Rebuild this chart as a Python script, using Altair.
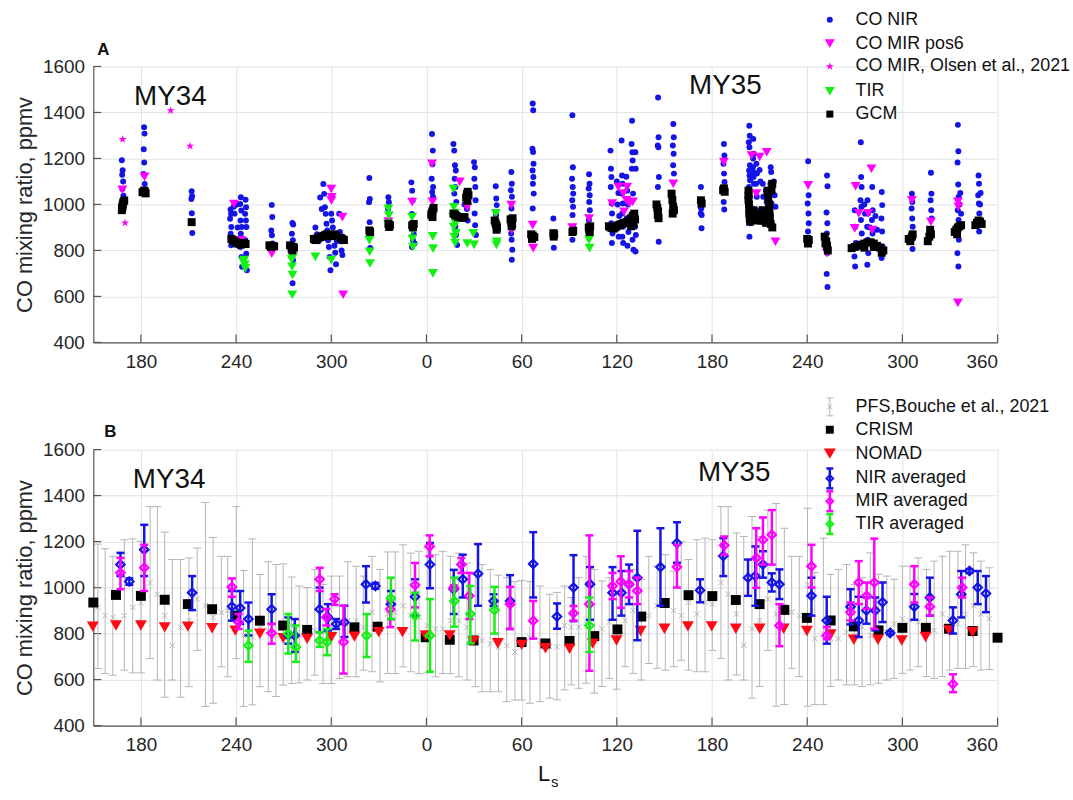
import altair as alt
import pandas as pd

FONT = "Liberation Sans"
W, H = 911, 278
X_DOMAIN = [150, 720]
Y_DOMAIN = [400, 1600]
X_TICKS = [180, 240, 300, 360, 420, 480, 540, 600, 660, 720]
Y_TICKS = [400, 600, 800, 1000, 1200, 1400, 1600]

BLUE = "#1414e6"
MAG = "#ff00ff"
GREEN = "#14f014"
RED = "#ff0a14"
GREY = "#b4b4b4"
TXT = "#262626"

# ---------------- Panel A data (cumulative Ls: 360 = Ls 0 of MY35) ----------------
CO_NIR = [
    (168.0, 1192), (168.5, 1149), (168.2, 1129), (168.8, 1100), (168.3, 1067), (169.0, 1038), (168.6, 1017),
    (182.0, 1336), (182.3, 1308), (181.8, 1240), (182.1, 1182), (181.7, 1132), (182.4, 1089), (182.0, 1060),
    (212.0, 1057), (212.3, 1036), (211.8, 1024), (212.1, 962), (212.4, 876),
    (236.5, 978), (236.8, 959), (236.2, 938), (237.0, 902), (236.6, 873), (237.2, 844), (236.9, 822),
    (238.5, 990), (239.0, 960), (240.5, 1000), (241.0, 900), (240.8, 850),
    (243.0, 1031), (242.6, 1002), (243.3, 974), (242.8, 930), (243.5, 902), (243.0, 873), (242.7, 815),
    (243.4, 772), (243.8, 729), (246.0, 1020), (246.3, 988), (245.7, 959), (246.2, 930), (246.5, 902),
    (245.9, 844), (246.4, 786), (246.8, 714),
    (262.5, 998), (262.8, 945), (262.2, 887), (262.6, 866), (262.9, 830),
    (275.5, 919), (276.0, 913), (275.2, 873), (275.8, 844), (275.4, 815), (275.9, 758), (275.6, 657),
    (290.0, 900), (291.0, 870), (292.0, 840), (293.0, 1030), (294.0, 980), (295.0, 1089), (295.5, 1046),
    (296.0, 988), (296.5, 959), (297.0, 916), (297.5, 887), (298.0, 844), (298.5, 815), (299.0, 772),
    (300.0, 960), (300.5, 930), (301.0, 900), (301.5, 860), (302.0, 820), (302.5, 790), (303.0, 740),
    (299.5, 714), (303.5, 840), (305.0, 960), (305.5, 880), (306.0, 840), (306.5, 800), (307.0, 780),
    (324.0, 1115), (324.3, 1024), (323.8, 1010), (324.2, 923), (324.5, 811),
    (336.0, 1031), (336.3, 1010), (335.8, 981), (336.2, 930), (336.5, 900),
    (350.5, 1096), (351.0, 1060), (351.3, 1017), (350.8, 959), (351.2, 902), (351.5, 844), (350.9, 815),
    (352.0, 870), (352.5, 830),
    (363.5, 1306), (364.0, 1234), (363.8, 1175), (363.3, 1112), (364.2, 1076), (363.6, 1054), (364.1, 1033),
    (377.0, 1263), (377.5, 1234), (378.0, 1170), (378.5, 1148), (377.8, 1112), (378.3, 1076), (377.6, 1047),
    (378.8, 1011), (379.0, 961), (378.2, 903), (378.6, 867), (379.3, 824),
    (390.0, 1184), (390.5, 1162), (390.2, 1112), (390.8, 1076), (391.0, 1018), (390.4, 961), (390.7, 910),
    (391.2, 867), (384.0, 1000), (385.0, 1050), (385.5, 980), (386.0, 930),
    (403.7, 1079), (404.0, 1026), (404.3, 997), (403.9, 954), (404.5, 902),
    (413.5, 1141), (413.8, 1090), (413.2, 1062), (413.9, 1033), (413.6, 982), (414.0, 932), (413.4, 874),
    (413.7, 846), (414.1, 803), (413.8, 759),
    (427.0, 1439), (427.3, 1410), (426.8, 1242), (427.2, 1228), (427.5, 1177), (426.9, 1148), (427.4, 1119),
    (427.1, 1090), (427.6, 1047), (427.0, 982),
    (440.0, 939), (440.3, 812),
    (452.0, 1388), (452.3, 1162), (451.8, 1112), (452.2, 1076), (452.5, 1047), (451.9, 1018), (452.4, 990),
    (452.1, 954), (452.6, 903), (452.0, 846),
    (462.5, 1131), (462.8, 1090), (462.3, 1069), (462.9, 1040), (462.6, 1011), (463.0, 975), (462.4, 932),
    (462.7, 874),
    (476.0, 1234), (476.3, 1155), (476.6, 1119), (476.2, 1076), (476.8, 1004), (477.0, 961), (476.5, 918),
    (477.3, 874), (476.9, 832),
    (483.0, 1278), (483.3, 1126), (483.6, 1090), (483.1, 1047), (483.8, 1004), (483.4, 961), (483.9, 903),
    (483.5, 860), (484.0, 832),
    (489.6, 1364), (489.3, 1263), (489.8, 1227), (490.0, 1191), (489.5, 1155), (490.2, 1047), (489.7, 961),
    (490.4, 903), (489.9, 846), (490.5, 803),
    (491.7, 1227), (491.9, 1155), (491.5, 903), (492.0, 867), (491.8, 795),
    (480.0, 1100), (481.0, 1050), (480.5, 1000), (481.5, 950), (480.2, 900), (481.2, 860),
    (486.0, 1120), (486.5, 1060), (487.0, 1000), (486.2, 940), (487.3, 880), (486.7, 820),
    (506.0, 1465), (506.3, 1292), (505.8, 1256), (506.2, 1249), (506.5, 1119), (505.9, 1076), (506.4, 838),
    (515.6, 1350), (515.9, 1292), (515.3, 1256), (515.8, 1220), (515.5, 1170), (516.0, 1134),
    (533.0, 1076), (533.3, 1018), (532.8, 990), (533.2, 982), (533.5, 954), (532.9, 961), (533.4, 896),
    (547.5, 1263), (547.8, 1213), (547.2, 1177), (547.6, 1134), (547.9, 1098), (547.4, 1011), (547.7, 978),
    (563.5, 1342), (563.8, 1299), (563.2, 1270), (563.6, 1249), (563.9, 1170), (563.4, 1148), (563.7, 1126),
    (564.0, 1105), (563.3, 1076), (563.8, 1033), (563.5, 975), (564.1, 918), (563.6, 860),
    (566.0, 1285), (566.3, 1220), (565.8, 1162), (566.2, 1119), (566.5, 1090), (565.9, 1200), (566.4, 1140),
    (568.0, 1177), (568.3, 1134), (567.8, 1090), (568.2, 1033), (568.5, 975),
    (572.0, 1090), (572.3, 1033), (571.8, 975), (572.2, 932),
    (577.0, 1162), (577.3, 1141), (576.8, 1090), (577.2, 1047), (577.5, 1004), (576.9, 961),
    (579.0, 1100), (579.5, 1040), (580.0, 990), (574.0, 1060), (574.5, 1010), (570.0, 1150), (570.5, 1100),
    (600.6, 1188), (600.9, 1040), (600.3, 1004), (600.8, 961), (601.0, 918), (600.5, 882),
    (612.5, 1126), (612.8, 1079), (612.2, 965), (612.7, 918), (612.4, 874), (612.9, 832), (612.6, 788),
    (612.3, 698), (612.8, 641),
    (630.0, 975), (630.3, 903), (630.6, 832), (629.8, 774), (630.2, 730),
    (633.8, 1270), (634.0, 1119), (634.3, 1076), (633.6, 1018), (634.2, 990), (633.9, 932), (634.4, 874),
    (638.0, 1018), (638.3, 961), (637.8, 903), (638.2, 846), (638.5, 788), (637.9, 738),
    (641.0, 1076), (641.3, 975), (640.8, 932), (641.2, 874),
    (647.0, 1054), (647.3, 997), (646.8, 939), (647.2, 882), (647.5, 817), (646.9, 767),
    (636.0, 1000), (636.5, 960), (639.5, 900), (643.0, 950), (644.0, 890),
    (666.0, 1047), (666.3, 1011), (665.8, 982), (666.2, 939), (666.5, 903), (665.9, 846), (666.4, 806),
    (678.0, 1138), (678.3, 1047), (677.8, 1018), (678.2, 975), (678.5, 939),
    (695.0, 1346), (695.3, 1231), (694.8, 1182), (695.2, 1087), (695.5, 1033), (694.9, 975), (695.4, 932),
    (695.1, 903), (695.6, 846), (694.7, 788), (695.3, 730), (696.0, 1000), (696.5, 1050), (697.0, 960),
    (708.0, 1126), (708.3, 1090), (707.8, 1040), (708.2, 1004), (708.5, 961), (707.9, 918), (708.4, 882),
    (709.0, 1000), (709.3, 1050),
]

CO_MIR_POS6 = [
    (168.3, 1064), (182.3, 1120), (238.7, 1002), (243.0, 844), (262.5, 786),
    (300.0, 1067), (300.3, 1031), (300.1, 1017), (307.0, 945), (307.5, 607),
    (336.0, 926), (351.0, 1010), (363.5, 1177), (363.8, 1011), (381.0, 1098), (385.7, 988),
    (413.5, 997), (413.8, 889), (427.0, 910), (427.3, 810), (452.0, 900), (462.5, 939),
    (477.0, 1004), (481.0, 1076), (484.0, 1047), (486.0, 1018), (488.0, 1004), (490.0, 1011),
    (484.5, 968), (486.5, 1076), (515.6, 1090),
    (547.5, 1184), (565.0, 1213), (570.0, 1206), (574.5, 1227), (568.0, 1047), (580.0, 838),
    (600.6, 1083), (612.5, 788), (630.5, 1079), (640.5, 1155), (632.5, 961), (638.5, 961),
    (630.0, 896), (641.0, 889), (666.0, 1018), (678.0, 925), (695.0, 1011), (695.3, 990), (695.0, 572),
]

CO_MIR_OLSEN = [(168.5, 1283), (170.0, 920), (198.8, 1408), (211.0, 1254)]

TIR = [
    (245.0, 758), (245.5, 737), (245.8, 722), (244.5, 750),
    (275.5, 808), (275.8, 772), (275.3, 729), (275.6, 693), (275.4, 607), (276.0, 790), (275.0, 760),
    (290.0, 772), (300.0, 758),
    (324.0, 844), (324.2, 794), (324.4, 743),
    (336.0, 981), (336.3, 952), (335.8, 916),
    (351.0, 945), (351.3, 887), (351.1, 851), (351.5, 815),
    (364.0, 861), (364.2, 808), (364.1, 700),
    (377.0, 1067), (377.3, 988), (376.8, 945), (377.2, 902), (377.5, 858),
    (378.0, 961), (378.3, 918), (378.6, 875), (378.1, 832),
    (389.5, 875), (390.0, 824), (385.7, 830),
    (403.7, 961), (404.0, 903), (404.3, 838), (404.1, 824),
    (462.5, 846), (462.8, 810),
]

GCM = [
    (168.0, 975), (168.3, 990), (168.6, 1000), (168.9, 1010), (169.5, 1017), (168.2, 985),
    (181.0, 1053), (182.0, 1060), (183.0, 1048), (182.5, 1056),
    (212.0, 923),
    (237.0, 850), (238.0, 845), (239.0, 840), (240.0, 835), (241.0, 830), (242.0, 830), (243.0, 825),
    (244.0, 830), (245.0, 832), (246.0, 828),
    (261.0, 822), (262.0, 815), (263.0, 820), (264.0, 818),
    (274.0, 822), (275.0, 808), (276.0, 815), (275.5, 800), (276.5, 812),
    (289.0, 850), (290.0, 845), (291.0, 852), (292.0, 855), (293.0, 858), (294.0, 860), (295.0, 862),
    (296.0, 866), (297.0, 870), (298.0, 868), (299.0, 865), (300.0, 862), (301.0, 868), (302.0, 870),
    (303.0, 866), (306.0, 855), (307.0, 850), (308.0, 845),
    (324.0, 887), (324.5, 880),
    (336.0, 916), (336.5, 902), (337.0, 910),
    (351.0, 909), (351.5, 900), (352.0, 915),
    (363.0, 955), (363.5, 965), (364.0, 975), (364.5, 985), (363.8, 945),
    (377.0, 960), (378.0, 955), (379.0, 950), (380.0, 945), (381.0, 945), (382.0, 943), (383.0, 942),
    (384.0, 945), (385.0, 1030), (385.5, 1045), (386.0, 1055), (386.5, 1040), (385.8, 1015),
    (403.0, 930), (403.5, 920), (404.0, 910), (404.5, 900), (404.2, 890),
    (413.0, 935), (413.5, 925), (414.0, 915), (413.7, 905), (414.3, 940),
    (426.0, 870), (427.0, 865), (428.0, 858), (426.5, 850),
    (440.0, 875), (440.5, 870), (440.2, 860),
    (452.0, 880), (452.5, 885),
    (462.3, 900), (462.6, 890), (462.9, 880), (463.2, 905),
    (475.0, 905), (476.0, 900), (477.0, 898), (478.0, 895), (479.0, 900), (480.0, 905), (481.0, 910),
    (482.0, 912), (483.0, 915), (484.0, 918), (485.0, 920), (486.0, 922), (487.0, 925), (488.0, 930),
    (489.0, 940), (490.0, 950), (491.0, 960), (491.5, 935), (490.5, 915), (489.0, 905),
    (505.0, 1000), (505.5, 985), (506.0, 970), (505.8, 955), (506.3, 940),
    (514.5, 1047), (515.0, 1020), (515.5, 990), (516.0, 975), (515.2, 960),
    (533.0, 1018), (533.5, 1004),
    (547.0, 1062), (547.5, 1070), (548.0, 1055),
    (563.0, 1060), (563.0, 1040), (563.0, 1020), (563.3, 1000), (563.5, 980), (563.5, 960), (563.8, 940),
    (564.0, 925), (566.0, 975), (566.5, 955), (567.0, 935), (568.0, 960), (569.0, 930), (570.0, 955),
    (571.0, 930), (572.0, 975), (572.5, 950), (573.0, 930), (574.0, 920), (575.0, 1060), (575.5, 1030),
    (576.0, 1000), (576.2, 970), (576.5, 940), (577.0, 915), (577.5, 1062), (578.0, 1090), (578.0, 900),
    (600.0, 850), (600.5, 830), (601.0, 845),
    (611.0, 860), (612.0, 840), (612.5, 820), (613.0, 800), (611.5, 830),
    (628.0, 810), (630.0, 815), (632.0, 820), (634.0, 825), (636.0, 830), (638.0, 835), (640.0, 835),
    (642.0, 830), (644.0, 820), (646.0, 812), (648.0, 800), (647.0, 790), (642.0, 815), (636.0, 812),
    (664.0, 850), (665.0, 840), (666.0, 860), (666.5, 870),
    (676.0, 840), (677.0, 860), (678.0, 870), (677.5, 890),
    (693.0, 880), (694.0, 890), (695.0, 900), (696.0, 905), (697.0, 910), (694.5, 870),
    (706.0, 910), (707.0, 920), (708.0, 930), (709.0, 925), (710.0, 915),
]

# ---------------- Panel B data: (Ls, value, low, high) ----------------
PFS = [
    (152.9, 914, 648, 1189), (157.5, 878, 626, 1169), (162.3, 870, 619, 1136), (169.6, 878, 641, 1208),
    (174.8, 914, 629, 1212), (180.0, 935, 629, 1201), (185.8, 1021, 691, 1352), (190.4, 971, 598, 1352),
    (195.0, 878, 523, 1241), (199.8, 748, 598, 1122), (205.0, 827, 523, 1122), (210.3, 856, 569, 1129),
    (215.5, 950, 727, 1172), (220.7, 921, 483, 1370), (225.5, 871, 497, 1218), (230.7, 892, 655, 1136),
    (234.7, 900, 612, 1136), (240.1, 900, 691, 1352), (244.7, 792, 483, 1074), (250.3, 784, 490, 1212),
    (255.1, 820, 569, 1057), (260.3, 813, 547, 1112), (265.1, 792, 526, 1100), (269.7, 835, 576, 1103),
    (275.0, 835, 583, 1046), (279.8, 792, 586, 1007), (284.8, 799, 598, 1000), (289.6, 813, 619, 1079),
    (294.8, 813, 583, 1014), (300.0, 820, 583, 1050), (305.2, 842, 605, 1050), (310.4, 856, 612, 1112),
    (315.7, 856, 612, 1093), (320.2, 827, 641, 1050), (325.7, 892, 634, 1136), (330.7, 835, 590, 1079),
    (335.5, 885, 626, 1155), (340.3, 892, 626, 1155), (345.3, 921, 655, 1186), (350.1, 880, 634, 1150),
    (355.3, 871, 626, 1158), (360.5, 835, 629, 1172), (365.7, 820, 612, 1143), (370.3, 820, 626, 1158),
    (375.1, 856, 626, 1136), (380.4, 856, 612, 1150), (385.6, 827, 598, 1107), (390.8, 784, 569, 1057),
    (395.0, 770, 547, 1100), (400.2, 756, 547, 1079), (405.4, 741, 547, 1054), (410.6, 748, 504, 1043),
    (415.8, 720, 511, 1026), (420.0, 756, 511, 1031), (425.2, 784, 497, 1026), (431.5, 770, 504, 1007),
    (437.7, 742, 519, 971), (442.3, 742, 512, 979), (447.1, 835, 555, 1007), (451.3, 828, 577, 957),
    (456.0, 828, 562, 1043), (460.6, 857, 584, 1136), (465.8, 785, 541, 1079), (470.6, 821, 570, 1029),
    (475.2, 850, 605, 1043), (479.8, 821, 558, 971), (485.2, 857, 656, 1022), (490.2, 900, 627, 1079),
    (495.4, 871, 598, 1036), (500.2, 878, 670, 1136), (505.4, 921, 649, 1093), (510.6, 936, 641, 1143),
    (515.8, 900, 656, 1072), (520.6, 878, 684, 1201), (525.2, 936, 641, 1122), (530.4, 885, 634, 1208),
    (535.6, 936, 634, 1215), (540.2, 928, 727, 1208), (545.6, 1022, 692, 1352), (550.2, 971, 598, 1352),
    (555.4, 885, 620, 1237), (560.0, 749, 598, 1222), (565.2, 821, 519, 1309), (570.0, 857, 570, 1222),
    (575.2, 950, 727, 1337), (580.4, 885, 484, 1366), (585.6, 921, 491, 1258), (590.2, 893, 649, 1136),
    (595.0, 878, 613, 1136), (600.2, 1014, 484, 1345), (604.8, 778, 491, 1065), (610.2, 799, 491, 1215),
    (614.8, 778, 570, 1058), (619.6, 778, 598, 1079), (624.8, 806, 577, 1100), (629.8, 792, 577, 1014),
    (634.6, 828, 570, 1043), (639.8, 792, 577, 1151), (645.0, 806, 584, 1058), (650.2, 806, 598, 1050),
    (654.8, 842, 605, 1036), (660.0, 864, 627, 1093), (664.8, 857, 641, 1093), (670.0, 850, 656, 1129),
    (675.2, 814, 613, 1079), (680.0, 814, 605, 1115), (685.2, 885, 613, 1136), (689.8, 864, 641, 1158),
    (695.0, 842, 649, 1158), (699.8, 885, 649, 1186), (704.8, 921, 656, 1151), (709.5, 885, 641, 1115),
    (714.8, 864, 644, 1086),
]

CRISM = [
    (150.0, 935), (164.3, 968), (180.0, 964), (195.0, 947), (209.6, 928), (224.9, 906), (239.5, 878),
    (255.0, 856), (269.7, 835), (284.8, 816), (314.6, 827), (329.2, 830), (359.5, 784), (374.7, 773),
    (389.7, 770), (420.0, 763), (435.0, 757), (450.2, 768), (465.8, 789), (480.4, 818), (495.4, 874),
    (510.2, 933), (525.2, 967), (540.2, 963), (555.0, 946), (570.0, 928), (585.6, 903), (599.8, 868),
    (614.8, 857), (629.4, 831), (645.0, 814), (660.0, 825), (674.8, 825), (689.4, 821), (704.3, 811),
    (720.0, 782),
]

NOMAD = [
    (149.7, 830), (164.3, 835), (180.0, 835), (195.0, 827), (209.6, 830), (224.9, 823), (239.5, 813),
    (255.0, 799), (269.7, 780), (284.8, 777), (300.0, 784), (314.6, 787), (329.9, 806), (344.9, 806),
    (359.5, 792), (374.7, 792), (389.7, 767), (405.0, 758), (420.0, 751), (435.0, 736), (450.2, 734),
    (464.8, 756), (479.8, 770), (495.0, 811), (510.0, 821), (524.8, 831), (539.8, 831), (555.0, 821),
    (570.0, 821), (585.2, 821), (599.8, 811), (614.8, 796), (629.4, 773), (644.6, 773), (659.6, 770),
    (674.6, 785), (689.4, 814), (704.3, 806),
]

NIR_AVG = [
    (167.1, 1100, 1050, 1151), (172.7, 1026, 1012, 1040), (182.1, 1165, 1050, 1273), (212.3, 978, 902, 1050),
    (237.4, 918, 856, 985), (242.6, 911, 842, 985), (247.8, 863, 792, 935), (262.4, 906, 842, 971),
    (272.9, 792, 756, 870), (277.0, 792, 720, 863), (292.7, 906, 806, 1000), (297.9, 871, 813, 928),
    (303.1, 842, 820, 863), (308.3, 849, 785, 921), (321.9, 1014, 935, 1093), (327.8, 1007, 995, 1020),
    (337.6, 928, 863, 985), (352.8, 960, 878, 1036), (362.2, 1100, 997, 1194), (377.2, 993, 885, 1077),
    (382.9, 1036, 957, 1143), (392.5, 1060, 921, 1189), (402.3, 942, 920, 971), (412.7, 942, 820, 1054),
    (427.3, 1103, 957, 1241), (442.3, 874, 821, 931), (452.7, 1000, 854, 1141), (463.1, 1015, 860, 1089),
    (477.3, 977, 860, 1089), (482.9, 977, 878, 1072), (487.7, 1014, 928, 1100), (492.9, 1043, 771, 1247),
    (507.5, 1089, 921, 1258), (517.9, 1194, 1108, 1284), (532.5, 988, 936, 1036), (547.1, 1137, 1050, 1215),
    (562.7, 1043, 964, 1122), (567.3, 1050, 921, 1179), (572.1, 1100, 1043, 1158), (577.7, 1022, 983, 1062),
    (582.5, 1014, 950, 1079), (602.7, 964, 878, 1043), (612.3, 857, 756, 960), (627.3, 917, 840, 993),
    (632.5, 857, 785, 960), (637.3, 900, 843, 957), (642.9, 900, 814, 957), (647.5, 936, 850, 1022),
    (652.3, 803, 796, 810), (667.5, 917, 860, 972), (677.3, 957, 878, 1043), (691.9, 857, 800, 914),
    (697.1, 971, 870, 1072), (702.3, 1072, 1064, 1080), (707.5, 1000, 928, 1072), (712.7, 974, 893, 1050),
]

MIR_AVG = [
    (167.1, 1064, 993, 1129), (182.1, 1086, 985, 1186), (237.4, 1003, 960, 1040), (241.6, 849, 820, 885),
    (262.4, 802, 756, 842), (292.7, 1036, 985, 1086), (296.9, 871, 835, 907), (302.1, 950, 925, 971),
    (307.7, 763, 626, 921), (337.2, 906, 828, 942), (352.8, 1011, 914, 1107), (362.0, 1179, 1136, 1227),
    (377.2, 1000, 990, 1010), (382.0, 1100, 1064, 1129), (387.0, 964, 863, 1064), (412.7, 928, 820, 1003),
    (427.3, 856, 778, 942), (452.7, 888, 856, 920), (462.7, 928, 638, 1227), (477.3, 1007, 950, 1064),
    (482.5, 1026, 912, 1136), (487.7, 1014, 957, 1072), (492.9, 986, 928, 1043), (517.9, 1089, 1000, 1186),
    (547.7, 1184, 1143, 1222), (567.9, 1129, 999, 1258), (572.1, 1208, 1100, 1305), (577.7, 1230, 1100, 1337),
    (582.5, 835, 745, 928), (602.7, 1093, 1000, 1186), (612.3, 792, 775, 828), (627.3, 893, 857, 935),
    (632.5, 1022, 928, 1115), (637.5, 964, 907, 1022), (642.3, 1022, 821, 1213), (667.5, 1014, 935, 1093),
    (677.3, 917, 878, 957), (691.9, 581, 545, 623), (697.7, 1000, 957, 1043),
]

TIR_AVG = [
    (247.8, 748, 677, 813), (272.9, 799, 713, 885), (277.7, 741, 677, 835), (292.7, 770, 742, 806),
    (297.3, 763, 706, 820), (322.3, 792, 698, 885), (337.6, 954, 863, 1043), (352.8, 878, 770, 978),
    (362.2, 792, 634, 950), (377.6, 942, 830, 1043), (387.7, 885, 757, 1007), (402.9, 902, 800, 1003),
    (462.7, 835, 720, 957),
]

# year labels: (Ls, value, text)
YEARS_A = [(198.6, 1466, "MY34"), (548.4, 1514, "MY35")]
YEARS_B = [(197.8, 1467, "MY34"), (554.0, 1497, "MY35")]

LEGEND_A = ["CO NIR", "CO MIR pos6", "CO MIR, Olsen et al., 2021", "TIR", "GCM"]
LEGEND_B = ["PFS,Bouche et al., 2021", "CRISM", "NOMAD", "NIR averaged", "MIR averaged", "TIR averaged"]

STAR = ("M0,-1L0.2245,-0.309L0.951,-0.309L0.3633,0.118L0.5878,0.809L0,0.382"
        "L-0.5878,0.809L-0.3633,0.118L-0.951,-0.309L-0.2245,-0.309Z")
XMARK = "M-1,-1L1,1M-1,1L1,-1"

# ---------------- helpers ----------------
xs = alt.Scale(domain=X_DOMAIN, nice=False, zero=False)
ys = alt.Scale(domain=Y_DOMAIN, nice=False, zero=False)
ONE = pd.DataFrame({"k": [0]})

x_axis = alt.Axis(values=X_TICKS, labelExpr="datum.value >= 720 ? '360' : '' + (datum.value % 360)",
                  grid=True, gridColor="#e3e3e3", gridWidth=1, ticks=False, tickSize=0,
                  domainColor="#555555", domainWidth=1.2, labelFontSize=19, labelColor=TXT,
                  labelFont=FONT, labelPadding=10, title=None)
y_axis = alt.Axis(values=Y_TICKS, format="d", grid=True, gridColor="#e3e3e3", gridWidth=1, ticks=False,
                  tickSize=0, domainColor="#555555", domainWidth=1.2, labelFontSize=19, labelColor=TXT,
                  labelFont=FONT, labelPadding=9, title="CO mixing ratio, ppmv", titleFontSize=22,
                  titleFont=FONT, titleFontWeight="normal", titleColor=TXT, titlePadding=6)


def XE(field):
    return alt.X(f"{field}:Q", scale=xs, axis=x_axis)


def YE(field):
    return alt.Y(f"{field}:Q", scale=ys, axis=y_axis)


def frame_layers():
    xt = alt.Chart(pd.DataFrame({"ls": X_TICKS})).mark_rule(color="#555555", strokeWidth=1.2).encode(
        x=XE("ls"), y=alt.value(H), y2=alt.value(H - 8))
    yt = alt.Chart(pd.DataFrame({"v": Y_TICKS})).mark_rule(color="#555555", strokeWidth=1.2).encode(
        y=YE("v"), x=alt.value(0), x2=alt.value(8))
    return [xt, yt]


def pts(pairs, shape, color, size, filled=True, sw=0):
    df = pd.DataFrame(pairs, columns=["ls", "v"])
    return alt.Chart(df).mark_point(shape=shape, size=size, filled=filled, color=color, opacity=1,
                                    strokeWidth=sw).encode(x=XE("ls"), y=YE("v"))


def errbars(rows, color, width, cap, shape, size, sw):
    df = pd.DataFrame(rows, columns=["ls", "v", "lo", "hi"])
    base = alt.Chart(df)
    line = base.mark_rule(color=color, strokeWidth=width).encode(x=XE("ls"), y=YE("lo"), y2="hi:Q")
    lo = base.mark_tick(orient="horizontal", size=cap, thickness=width, color=color, opacity=1).encode(
        x=XE("ls"), y=YE("lo"))
    hi = base.mark_tick(orient="horizontal", size=cap, thickness=width, color=color, opacity=1).encode(
        x=XE("ls"), y=YE("hi"))
    mk = base.mark_point(shape=shape, size=size, filled=False, color=color, opacity=1, strokeWidth=sw).encode(
        x=XE("ls"), y=YE("v"))
    return [line, lo, hi, mk]


def year_text(rows):
    df = pd.DataFrame(rows, columns=["ls", "v", "t"])
    return alt.Chart(df).mark_text(fontSize=28, font=FONT, color="#111111", align="center",
                                   baseline="middle").encode(x=XE("ls"), y=YE("v"), text="t:N")


def fixed_text(label, rx, ry, size=18, weight="normal", align="left", baseline="middle"):
    return alt.Chart(ONE).mark_text(text=label, fontSize=size, font=FONT, fontWeight=weight, color="#111111",
                                    align=align, baseline=baseline).encode(x=alt.value(rx), y=alt.value(ry))


def fixed_symbol(rx, ry, shape, color, size, filled=True, sw=0):
    return alt.Chart(ONE).mark_point(shape=shape, size=size, filled=filled, color=color, opacity=1,
                                     strokeWidth=sw).encode(x=alt.value(rx), y=alt.value(ry))


def fixed_errsym(rx, ry, color, width, half, capw, shape, size, sw):
    out = [alt.Chart(ONE).mark_rule(color=color, strokeWidth=width).encode(
        x=alt.value(rx), y=alt.value(ry - half), y2=alt.value(ry + half))]
    for yy in (ry - half, ry + half):
        out.append(alt.Chart(ONE).mark_rule(color=color, strokeWidth=width).encode(
            x=alt.value(rx - capw / 2), x2=alt.value(rx + capw / 2), y=alt.value(yy)))
    out.append(fixed_symbol(rx, ry, shape, color, size, filled=False, sw=sw))
    return out


LEG_SYM_X = 742
LEG_TXT_X = 768

# ---------------- Panel A ----------------
rows_a = [-47, -23, 0, 25, 48]
layers_a = frame_layers() + [
    pts(CO_NIR, "circle", BLUE, 36),
    pts(CO_MIR_POS6, "triangle-down", MAG, 100),
    pts(CO_MIR_OLSEN, STAR, MAG, 75),
    pts(TIR, "triangle-down", GREEN, 100),
    pts(GCM, "square", "#000000", 64),
    year_text(YEARS_A),
    fixed_text("A", 4, -17, size=17, weight="bold"),
    fixed_symbol(LEG_SYM_X, rows_a[0], "circle", BLUE, 36),
    fixed_symbol(LEG_SYM_X, rows_a[1], "triangle-down", MAG, 100),
    fixed_symbol(LEG_SYM_X, rows_a[2], STAR, MAG, 75),
    fixed_symbol(LEG_SYM_X, rows_a[3], "triangle-down", GREEN, 100),
    fixed_symbol(LEG_SYM_X, rows_a[4], "square", "#000000", 50),
]
for lab, ry in zip(LEGEND_A, rows_a):
    layers_a.append(fixed_text(lab, LEG_TXT_X, ry))
panel_a = alt.layer(*layers_a).properties(width=W, height=H)

# ---------------- Panel B ----------------
rows_b = [-43, -20, 4, 29, 52, 75]
layers_b = frame_layers()
layers_b += errbars(PFS, GREY, 1, 8, XMARK, 30, 1)
layers_b += [pts(CRISM, "square", "#000000", 100), pts(NOMAD, "triangle-down", RED, 145)]
layers_b += errbars(NIR_AVG, BLUE, 2.5, 8, "diamond", 72, 2.2)
layers_b += errbars(MIR_AVG, MAG, 2.5, 8, "diamond", 72, 2.2)
layers_b += errbars(TIR_AVG, GREEN, 2.5, 8, "diamond", 72, 2.2)
layers_b += [year_text(YEARS_B), fixed_text("B", 11, -18, size=17, weight="bold")]
layers_b += fixed_errsym(LEG_SYM_X, rows_b[0], GREY, 1, 9, 7, XMARK, 25, 1)
layers_b += [fixed_symbol(LEG_SYM_X, rows_b[1], "square", "#000000", 64),
             fixed_symbol(LEG_SYM_X, rows_b[2], "triangle-down", RED, 145)]
layers_b += fixed_errsym(LEG_SYM_X, rows_b[3], BLUE, 2.5, 10, 7, "diamond", 45, 2)
layers_b += fixed_errsym(LEG_SYM_X, rows_b[4], MAG, 2.5, 10, 7, "diamond", 45, 2)
layers_b += fixed_errsym(LEG_SYM_X, rows_b[5], GREEN, 2.5, 10, 7, "diamond", 45, 2)
for lab, ry in zip(LEGEND_B, rows_b):
    layers_b.append(fixed_text(lab, LEG_TXT_X, ry))
layers_b += [fixed_text("L", 448, 334, size=22, baseline="alphabetic"),
             fixed_text("s", 461, 340, size=15, baseline="alphabetic")]
panel_b = alt.layer(*layers_b).properties(width=W, height=H)

chart = alt.vconcat(panel_a, panel_b, spacing=108, bounds="flush").properties(
    padding={"left": 13, "top": 8, "right": 2, "bottom": 0}
).configure(font=FONT).configure_view(stroke=None)

chart.save("out.html", embed_options={"renderer": "svg", "actions": False})
